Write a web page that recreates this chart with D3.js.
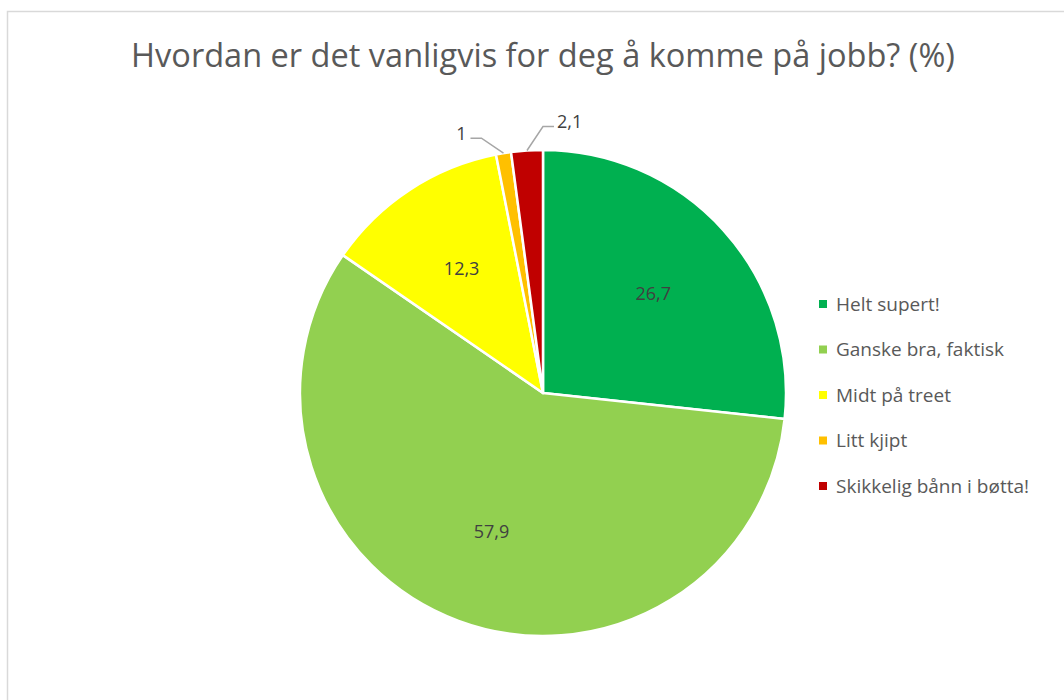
<!DOCTYPE html>
<html>
<head>
<meta charset="utf-8">
<script src="https://cdn.jsdelivr.net/npm/d3@7"></script>
<style>
  body { margin: 0; background: #fff; }
  text { font-family: "Open Sans", sans-serif; }
</style>
</head>
<body>
<script>
// chart data
var categories = ["Helt supert!", "Ganske bra, faktisk", "Midt på treet", "Litt kjipt", "Skikkelig bånn i bøtta!"];
var values = [26.7, 57.9, 12.3, 1, 2.1];
var labels = ["26,7", "57,9", "12,3", "1", "2,1"];
var colors = ["#00B050", "#92D050", "#FFFF00", "#FFC000", "#C00000"];
var title = "Hvordan er det vanligvis for deg å komme på jobb? (%)";

var w = 1064, h = 700;
var cx = 543, cy = 393, r = 243;

var svg = d3.select("body")
    .append("svg")
    .attr("width", w)
    .attr("height", h);

// chart frame
svg.append("rect")
    .attr("x", 7.5)
    .attr("y", 11.5)
    .attr("width", 1080)
    .attr("height", 720)
    .attr("fill", "#fff")
    .attr("stroke", "#d9d9d9")
    .attr("stroke-width", 1.5);

// title
var titleText = svg.append("text")
    .attr("x", cx)
    .attr("y", 67)
    .attr("text-anchor", "middle")
    .attr("fill", "#595959")
    .style("font-size", "32px")
    .text(title);
// squeeze to the width of the original
var tw = titleText.node().getComputedTextLength();
titleText.style("font-size", (32 * 824 / tw) + "px");

var pie = d3.pie()
    .value(function(d){ return d; })
    .sort(null);

var arcs = pie(values);

var arc = d3.arc()
    .innerRadius(0)
    .outerRadius(r);

var labelArc = d3.arc()
    .innerRadius(r * 0.22)
    .outerRadius(r);

var g = svg.append("g")
    .attr("transform", "translate(" + cx + "," + cy + ")");

g.selectAll(".slice")
    .data(arcs)
    .enter()
    .append("path")
    .attr("class", "slice")
    .attr("d", arc)
    .attr("fill", function(d, i){ return colors[i]; })
    .attr("stroke", "#fff")
    .attr("stroke-width", 2.5)
    .attr("stroke-linejoin", "round");

// labels inside big slices
g.selectAll(".inLabel")
    .data(arcs.filter(function(d){ return d.value >= 5; }))
    .enter()
    .append("text")
    .attr("class", "inLabel")
    .attr("transform", function(d){
        var c = labelArc.centroid(d);
        return "translate(" + c[0] + "," + c[1] + ")";
    })
    .attr("dy", "0.35em")
    .attr("text-anchor", "middle")
    .attr("fill", "#404040")
    .style("font-size", "18px")
    .text(function(d){ return labels[d.index]; });

// small slices get outside labels with leader lines
var small = arcs.filter(function(d){ return d.value < 5; });

small.forEach(function(d){
    var a = (d.startAngle + d.endAngle) / 2;
    var sx = Math.sin(a) * r, sy = -Math.cos(a) * r;
    var left = d.index === 3;
    var ex = left ? sx - 22 : sx + 16;
    var ey = left ? sy - 15 : sy - 24;
    var hx = left ? ex - 11 : ex + 11;
    g.append("polyline")
        .attr("points", [[sx, sy], [ex, ey], [hx, ey]].map(function(p){ return p.join(","); }).join(" "))
        .attr("fill", "none")
        .attr("stroke", "#a6a6a6")
        .attr("stroke-width", 1.5);
    g.append("text")
        .attr("x", left ? hx - 4 : hx + 3)
        .attr("y", ey + 1.5)
        .attr("text-anchor", left ? "end" : "start")
        .attr("fill", "#404040")
        .style("font-size", "18px")
        .text(labels[d.index]);
});

// legend
var legend = svg.selectAll(".legend")
    .data(categories)
    .enter()
    .append("g")
    .attr("class", "legend")
    .attr("transform", function(d, i){
        return "translate(819," + (300 + i * 45.5) + ")";
    });

legend.append("rect")
    .attr("width", 8)
    .attr("height", 8)
    .attr("fill", function(d, i){ return colors[i]; });

legend.append("text")
    .attr("x", 17)
    .attr("y", 4)
    .attr("dy", "0.35em")
    .attr("fill", "#595959")
    .style("font-size", "19px")
    .text(function(d){ return d; });
</script>
</body>
</html>
